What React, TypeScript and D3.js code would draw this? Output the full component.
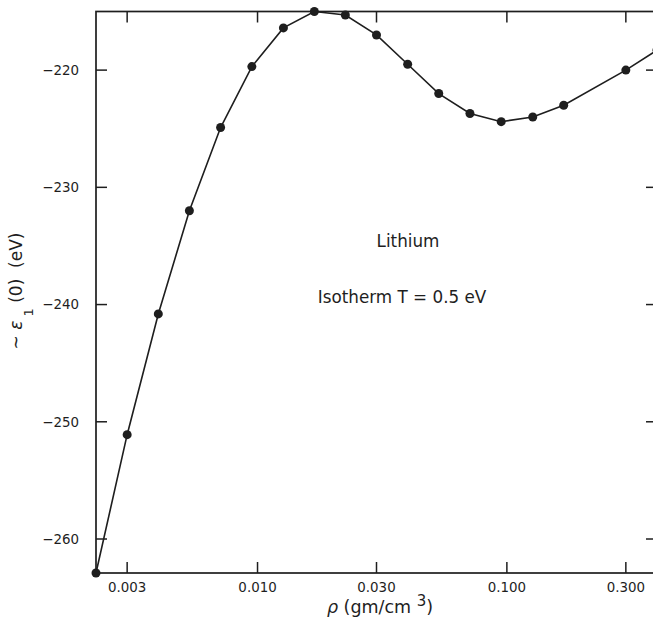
import React from "react";
import * as d3 from "d3";

const rho = [0.00225, 0.003, 0.004, 0.00533, 0.00711, 0.00949, 0.0127, 0.0169, 0.0225, 0.03, 0.04, 0.0533, 0.0711, 0.0949, 0.127, 0.169, 0.3, 0.4];
const energy = [-262.9, -251.1, -240.8, -232.0, -224.9, -219.7, -216.4, -215.0, -215.3, -217.0, -219.5, -222.0, -223.7, -224.4, -224.0, -223.0, -220.0, -218.3];
const xTicks = [0.003, 0.01, 0.03, 0.1, 0.3];
const yTicks = [-260, -250, -240, -230, -220];

const W = 653;
const H = 622;
const left = 96;
const right = 657;
const top = 11.5;
const bottom = 573;
const FONT = "'DejaVu Sans', sans-serif";
const INK = "#1e1e1e";

export default function App() {
  const x = d3.scaleLog().domain([0.00225, 0.4]).range([left, right]);
  const y = d3.scaleLinear().domain([-262.9, -215.0]).range([bottom, top]);
  const line = d3
    .line<number>()
    .x((_, i) => x(rho[i]))
    .y((d) => y(d));
  const fx = d3.format(".3f");
  const fy = d3.format("d");
  const tl = 11;

  return (
    <svg width={W} height={H} style={{ position: "absolute", left: 0, top: 0, background: "#fff" }} fontFamily={FONT}>
      <rect x={0} y={0} width={W} height={H} fill="#fff" />
      <rect x={left} y={top} width={right - left} height={bottom - top} fill="none" stroke={INK} strokeWidth={1.7} />
      {xTicks.map((t) => (
        <g key={"x" + t}>
          <line x1={x(t)} x2={x(t)} y1={bottom} y2={bottom - tl} stroke={INK} strokeWidth={1.5} />
          <line x1={x(t)} x2={x(t)} y1={top} y2={top + tl} stroke={INK} strokeWidth={1.5} />
          <text x={x(t)} y={592} textAnchor="middle" fontSize={13.4} fill={INK}>
            {fx(t)}
          </text>
        </g>
      ))}
      {yTicks.map((t) => (
        <g key={"y" + t}>
          <line x1={left} x2={left + tl} y1={y(t)} y2={y(t)} stroke={INK} strokeWidth={1.5} />
          <line x1={right} x2={right - tl} y1={y(t)} y2={y(t)} stroke={INK} strokeWidth={1.5} />
          <text x={79} y={y(t) + 4.8} textAnchor="end" fontSize={13.4} fill={INK}>
            {fy(t)}
          </text>
        </g>
      ))}
      <path d={line(energy) || ""} fill="none" stroke={INK} strokeWidth={1.6} />
      {energy.map((e, i) => (
        <circle key={i} cx={x(rho[i])} cy={y(e)} r={4.5} fill={INK} />
      ))}
      <text x={408} y={247} textAnchor="middle" fontSize={16.8} fill={INK}>
        Lithium
      </text>
      <text x={402} y={303} textAnchor="middle" fontSize={16.8} fill={INK}>
        Isotherm T = 0.5 eV
      </text>
      <text x={380} y={613} textAnchor="middle" fontSize={17.5} fill={INK} style={{ whiteSpace: "pre" }}>
        <tspan fontStyle="italic">ρ</tspan>
        <tspan> (gm/cm </tspan>
        <tspan dy={-7} fontSize={15}>3</tspan>
        <tspan dy={7}>)</tspan>
      </text>
      <text transform="translate(22,291) rotate(-90)" textAnchor="middle" fontSize={17} fill={INK} style={{ whiteSpace: "pre" }}>
        <tspan>~ </tspan>
        <tspan fontStyle="italic">ε</tspan>
        <tspan dy={11} fontSize={13}> 1</tspan>
        <tspan dy={-11}> (0)  (eV)</tspan>
      </text>
    </svg>
  );
}
